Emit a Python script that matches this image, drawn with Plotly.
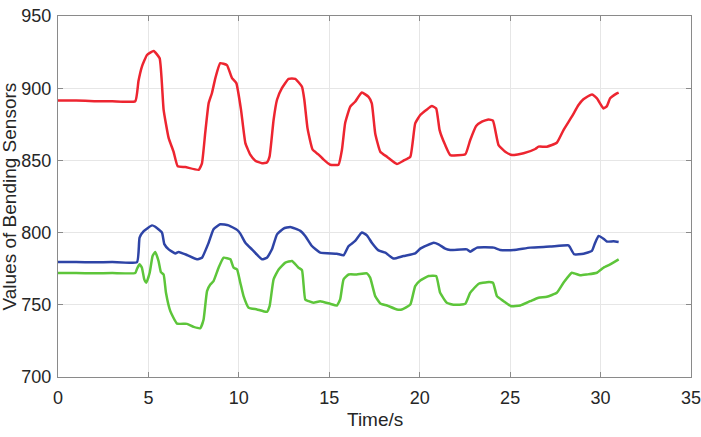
import plotly.graph_objects as go

# red sensor
t_red = [0, 1, 2, 3, 4.27, 4.45, 4.64, 4.92, 5.29, 5.62, 5.84, 6.12, 6.39, 6.62, 7.04, 7.78, 7.96,
         8.14, 8.33, 8.51, 8.7, 8.97, 9.34, 9.62, 9.86, 10.12, 10.36, 10.63, 10.91, 11.28, 11.55,
         11.7, 11.92, 12.11, 12.38, 12.75, 13.12, 13.49, 13.62, 13.8, 14.08, 14.41, 14.69, 15.05,
         15.51, 15.7, 15.88, 16.16, 16.43, 16.8, 17.17, 17.35, 17.54, 17.82, 18.19, 18.74, 19.1,
         19.48, 19.75, 20.03, 20.4, 20.67, 20.91, 21.1, 21.41, 21.69, 22.52, 22.79, 23.12, 23.44,
         23.81, 24.05, 24.36, 24.73, 25.1, 25.74, 26.39, 26.57, 27.03, 27.58, 27.95, 28.41, 28.78,
         29.05, 29.52, 29.8, 30.16, 30.35, 30.53, 30.9, 31.0]
v_red = [891.5, 891.5, 891, 891, 891, 905, 915, 923, 925.8, 920.7, 885, 865.4, 856, 845.9, 845.4,
         843.5, 848, 869, 889.6, 896.5, 907, 917.3, 916, 907, 903.5, 885, 862, 854, 849.8, 848,
         848.6, 852.8, 878, 892, 900, 906.5, 906.5, 901, 892, 872, 857.4, 854, 850.5, 847, 847,
         857.4, 876, 887.3, 890.6, 897, 894, 889.5, 868.7, 856, 852.5, 847.5, 849.8, 852.5, 875.6,
         881.4, 885.3, 887.6, 886, 871, 860.6, 853.7, 854.2, 864, 873.8, 876.8, 878.4, 877.5,
         860.6, 856, 853.7, 854.9, 857.9, 859.5, 859.5, 862.2, 871, 880.3, 888.3, 892.3, 895.7,
         893, 886, 887.6, 893, 896.4, 897]

# blue sensor
t_blue = [0, 1, 2, 3, 4.37, 4.51, 4.74, 5.2, 5.38, 5.75, 5.88, 6.12, 6.49, 6.67, 7.13, 7.68, 7.96,
          8.33, 8.6, 8.97, 9.43, 9.9, 10.08, 10.36, 10.72, 11.28, 11.55, 11.83, 12.11, 12.47,
          12.84, 13.4, 13.67, 14.04, 14.5, 15.42, 15.79, 16.07, 16.43, 16.8, 17.08, 17.35, 17.72,
          18.1, 18.55, 19.1, 19.75, 20.03, 20.4, 20.77, 21.04, 21.41, 21.69, 22.61, 22.79, 23.17,
          24.09, 24.45, 25.19, 26.11, 27.21, 28.23, 28.32, 28.54, 29.06, 29.52, 29.7, 29.89,
          30.16, 30.35, 30.72, 31.0]
v_blue = [779.6, 779.6, 779.4, 779.6, 779.6, 796.5, 801, 805, 804, 800, 792, 788.4, 785.6, 786.6,
          784.5, 781.5, 782.6, 793, 802.3, 805.8, 805, 801.9, 799.3, 793, 788.4, 781.5, 782.6,
          788.4, 798.8, 802.8, 803.9, 801.2, 797.7, 790.7, 786.1, 785.4, 784.3, 790.7, 794.2,
          800, 798.1, 793, 787.7, 786.1, 782, 783.8, 785.6, 788.9, 791.2, 793, 791.9, 788.9, 788,
          788.4, 786.8, 789.6, 789.6, 788, 788, 789.6, 790.3, 791.2, 789.6, 785, 785.4, 787.3,
          793, 797.7, 795.8, 793.8, 794, 793.5]

# green sensor
t_green = [0, 1, 2, 3, 4.27, 4.37, 4.51, 4.64, 4.77, 4.88, 5.07, 5.23, 5.38, 5.56, 5.69, 5.84,
           5.97, 6.21, 6.58, 7.13, 7.5, 7.87, 8.05, 8.24, 8.42, 8.6, 8.88, 9.16, 9.53, 9.71, 9.9,
           10.08, 10.26, 10.54, 11.0, 11.55, 11.7, 11.92, 12.2, 12.57, 12.94, 13.3, 13.49, 13.67,
           13.86, 14.13, 14.5, 15.05, 15.42, 15.6, 15.79, 16.07, 16.52, 17.08, 17.26, 17.54,
           17.82, 18.19, 18.74, 19.01, 19.48, 19.75, 20.03, 20.49, 20.91, 21.13, 21.5, 21.87,
           22.52, 22.79, 23.26, 23.72, 24.05, 24.27, 24.64, 25.05, 25.56, 26.11, 26.57, 27.03,
           27.58, 27.95, 28.41, 28.87, 29.24, 29.8, 30.16, 30.53, 31.0]
v_green = [772, 772, 771.8, 772, 772, 775, 778, 775.7, 767.6, 765.3, 772.2, 783.8, 786.6, 780.3,
           772.7, 771, 758.3, 745.6, 737, 736.8, 734.7, 733.8, 739.8, 759.5, 764, 766.4, 775.7,
           782.6, 781.5, 775.7, 774.5, 765.3, 756, 748, 746.8, 745.1, 749, 767.6, 774.5, 779.2,
           780.3, 775.7, 774, 753.7, 752.5, 751.4, 752.5, 750.7, 749.5, 753.7, 767.6, 771, 771,
           771.8, 768.8, 756, 750.9, 749.5, 746.8, 746.8, 750.2, 763, 766.9, 769.9, 769.9, 758.3,
           751.4, 750, 750.7, 758.3, 764.6, 765.7, 765.3, 756, 752.5, 749, 749.5, 752.5, 754.9,
           755.6, 758.3, 765.3, 772.2, 770.4, 771, 772.2, 775.7, 778, 781.5]

fig = go.Figure()
for t, v, c in [(t_red, v_red, "#ED2530"), (t_blue, v_blue, "#2E44A6"), (t_green, v_green, "#5DC53A")]:
    fig.add_trace(go.Scatter(x=t, y=v, mode="lines", line=dict(color=c, width=2.5, shape="spline", smoothing=0.4),
                             showlegend=False))

axis_style = dict(showline=True, linecolor="#8a8a8a", linewidth=1, mirror="ticks", ticks="inside",
                  ticklen=5, tickcolor="#8a8a8a", showgrid=True, gridcolor="#e6e6e6", zeroline=False,
                  automargin=False, ticklabeloverflow="allow", tickfont=dict(size=18, color="#262626"))
fig.update_xaxes(range=[0, 35], dtick=5, ticklabelstandoff=4, **axis_style)
fig.update_yaxes(range=[700, 950], dtick=50, ticklabelstandoff=2, **axis_style)

title_font = dict(size=19, color="#262626")
fig.add_annotation(text="Time/s", xref="paper", yref="paper", x=0.5, y=0, yshift=-42,
                   showarrow=False, font=title_font, xanchor="center", yanchor="middle")
fig.add_annotation(text="Values of Bending Sensors", xref="paper", yref="paper", x=0, y=0.5,
                   xshift=-49, textangle=-90, showarrow=False, font=title_font,
                   xanchor="center", yanchor="middle")

fig.update_layout(width=701, height=437, margin=dict(l=58, r=10, t=16, b=60),
                  plot_bgcolor="white", paper_bgcolor="white",
                  font=dict(family="Liberation Sans, Arial, sans-serif"))
fig.write_html("out.html", config={"displayModeBar": False},
               post_script="document.body.style.margin='0';")
